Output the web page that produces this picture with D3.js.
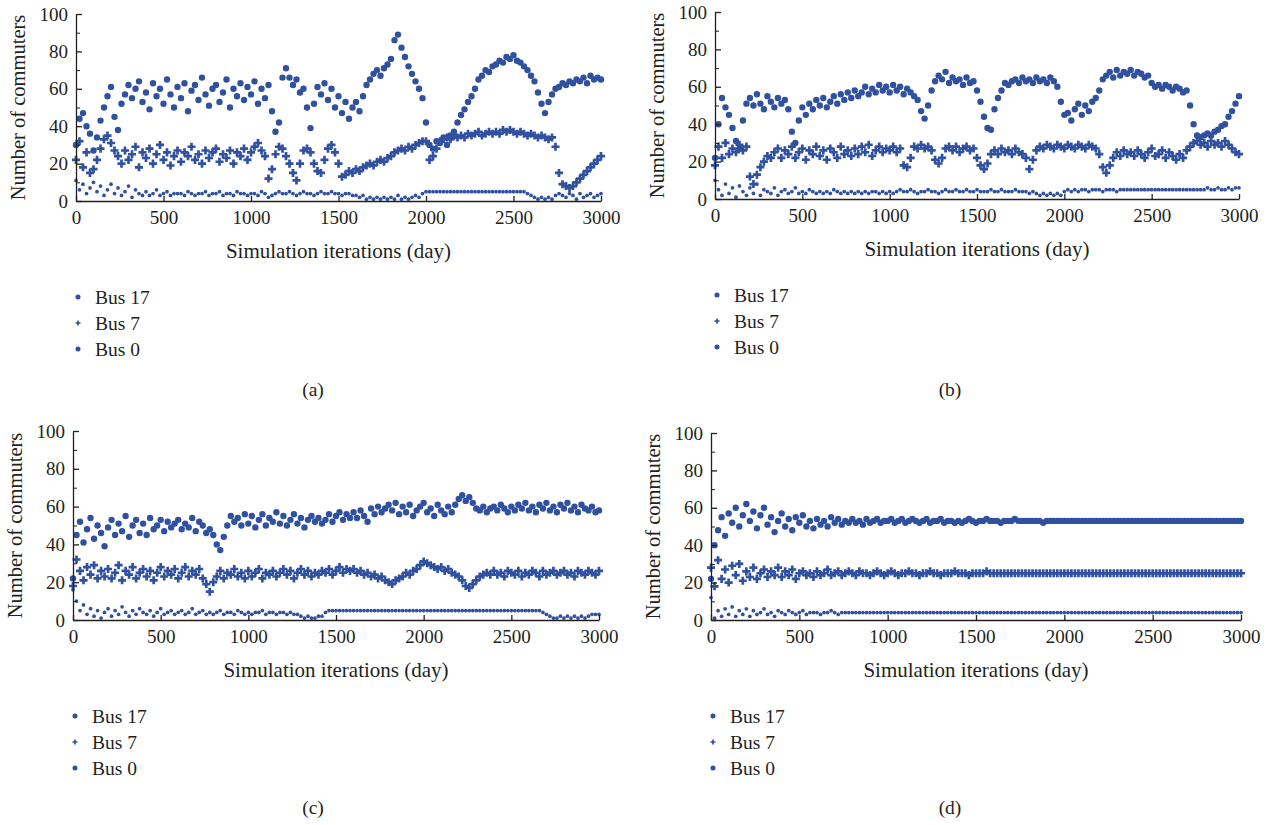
<!DOCTYPE html>
<html>
<head>
<meta charset="utf-8">
<script src="https://cdn.jsdelivr.net/npm/d3@7"></script>
<style>
  body { margin: 0; background: #fff; }
</style>
</head>
<body>
<svg id="chart" width="1273" height="825"></svg>
<script>
// one value every 20 simulated days, 0..3000 (151 values per series)
var dayStep = 20;
var seriesNames = ["Bus 17", "Bus 7", "Bus 0"];
var xTicks = [0, 500, 1000, 1500, 2000, 2500, 3000];
var yTicks = [0, 20, 40, 60, 80, 100];
var panelLabels = ["(a)", "(b)", "(c)", "(d)"];

var a17 = [30,44,47,40,36,27,34,43,50,56,
           61,45,38,52,57,62,55,60,64,53,
           58,49,63,56,60,52,65,57,50,61,
           55,63,48,59,62,54,66,57,51,60,
           62,53,58,65,50,60,56,63,54,61,
           57,64,52,60,55,62,48,37,42,66,
           71,66,62,65,58,60,50,39,52,61,
           57,63,54,60,50,56,47,53,44,50,
           53,48,56,62,65,68,70,67,71,73,
           76,86,89,82,77,72,68,64,60,55,
           42,30,28,32,31,34,30,35,37,42,
           46,49,53,56,60,65,67,70,69,72,
           73,75,74,77,76,78,75,74,72,70,
           67,64,58,52,47,53,57,60,61,63,
           62,64,63,65,64,66,63,67,65,66,
           65];
var a7 = [22,32,18,26,15,17,22,28,33,35,
          31,27,24,20,27,22,25,29,18,26,
          23,28,20,25,30,22,26,19,24,27,
          21,26,24,29,22,25,20,27,23,26,
          28,21,25,23,27,20,26,24,28,22,
          26,29,31,27,24,12,17,25,29,28,
          24,20,15,11,20,27,28,26,20,16,
          15,22,28,30,26,20,13,14,16,15,
          17,16,18,19,20,19,21,22,21,23,
          24,26,27,28,27,29,28,30,31,32,
          32,22,24,28,32,33,34,33,35,34,
          35,34,36,35,36,37,35,36,37,36,
          37,36,38,37,38,37,36,37,36,35,
          36,35,34,35,34,33,34,29,15,9,
          8,7,8,10,12,14,16,18,20,22,
          24];
var a0 = [11,6,9,4,7,10,5,8,3,6,
          9,4,7,3,5,8,2,6,4,3,
          5,3,4,6,3,4,5,3,4,4,
          4,3,5,4,3,4,4,5,3,4,
          4,5,3,4,4,3,5,4,4,3,
          4,4,3,5,4,2,3,4,5,4,
          4,5,4,3,4,5,4,4,3,4,
          5,4,4,5,4,4,3,4,4,3,
          3,2,3,1,2,1,2,1,2,1,
          2,1,3,1,2,1,2,3,2,4,
          5,5,5,5,5,5,5,5,5,5,
          5,5,5,5,5,5,5,5,5,5,
          5,5,5,5,5,5,5,5,5,4,
          3,2,1,2,1,2,1,3,4,3,
          2,4,3,1,4,2,3,4,2,3,
          4];

var b17 = [22,40,54,49,45,38,31,27,42,51,
           54,50,56,51,48,55,52,49,54,51,
           53,48,36,30,42,49,45,51,48,53,
           50,54,49,52,55,51,56,53,57,54,
           58,55,57,60,56,59,57,61,58,60,
           57,61,58,60,56,59,57,55,53,47,
           43,50,58,63,66,64,68,62,65,63,
           64,61,65,62,63,58,52,44,38,37,
           48,54,58,62,61,63,64,62,65,63,
           64,62,65,63,64,62,65,63,60,52,
           45,46,42,48,51,45,50,47,52,54,
           58,64,66,68,65,69,66,68,67,69,
           66,68,67,65,66,62,60,61,59,61,
           60,58,60,59,57,58,50,40,34,33,
           34,35,34,36,37,39,40,44,47,51,
           55];
var b7 = [18,28,22,30,24,27,25,29,26,28,
          12,8,13,17,20,23,22,25,27,22,
          26,24,28,22,25,27,21,26,24,28,
          23,26,21,27,25,22,28,24,26,23,
          27,24,28,25,29,23,26,28,25,27,
          26,28,25,27,18,17,22,28,27,29,
          27,28,26,21,19,22,27,28,26,28,
          25,27,28,26,27,22,18,16,19,24,
          26,24,27,25,26,24,27,25,24,22,
          16,21,26,28,27,29,28,27,29,28,
          27,29,28,27,29,28,27,29,28,27,
          24,17,14,18,22,25,23,26,24,25,
          23,26,24,22,25,27,23,24,26,22,
          25,23,21,24,22,26,28,30,31,29,
          30,28,31,29,30,28,31,29,27,25,
          24];
var b0 = [10,5,2,8,3,6,1,7,4,2,
          6,3,8,2,5,4,3,6,2,4,
          5,3,4,6,3,4,3,5,4,3,
          4,3,4,3,5,4,3,4,3,4,
          3,4,3,4,3,4,4,3,4,3,
          4,3,4,5,4,4,5,4,3,4,
          4,5,4,4,3,4,5,4,4,5,
          4,4,5,4,4,5,4,4,4,5,
          4,4,5,4,4,4,5,4,4,4,
          3,4,3,2,3,2,3,2,3,2,
          4,5,4,5,4,5,5,4,5,5,
          5,4,5,5,5,4,5,5,5,5,
          5,5,5,5,5,5,5,5,5,5,
          5,5,5,5,5,5,5,5,5,5,
          5,6,5,5,6,5,5,6,5,6,
          6];

var c17 = [22,45,52,41,48,54,43,50,46,39,
           49,53,45,51,47,55,44,50,53,46,
           51,45,54,48,50,53,47,52,49,51,
           53,48,51,49,54,47,52,50,46,48,
           45,40,37,44,50,55,52,54,50,56,
           51,55,49,53,56,50,54,52,57,51,
           55,50,53,56,51,54,49,53,55,52,
           54,51,53,56,52,55,57,53,56,54,
           57,54,58,55,52,59,56,60,57,59,
           61,58,62,56,60,57,61,55,58,60,
           62,57,59,55,61,58,56,60,57,61,
           64,66,63,65,62,59,58,60,57,59,
           60,58,61,59,57,60,58,61,59,62,
           58,60,57,61,59,62,58,60,57,61,
           59,62,58,60,57,61,59,58,60,57,
           58];
var c7 = [18,32,26,21,28,24,29,22,26,23,
          27,22,25,29,21,26,24,28,22,25,
          27,23,26,21,25,28,23,26,24,27,
          22,25,28,23,26,24,27,22,19,15,
          20,23,26,22,25,24,27,23,25,22,
          26,23,25,27,22,25,24,26,23,25,
          27,24,26,22,25,27,24,26,23,25,
          24,26,25,27,24,26,28,25,27,26,
          27,25,26,24,25,23,24,22,23,21,
          20,19,21,22,23,25,24,26,27,29,
          31,30,29,28,27,28,26,27,25,24,
          23,21,18,17,19,21,23,24,25,24,
          26,24,25,23,26,25,24,26,23,25,
          24,26,25,23,26,24,25,26,24,25,
          26,24,25,23,26,25,24,26,25,24,
          26];
var c0 = [16,10,5,8,3,6,2,5,1,4,
          6,2,5,3,7,4,2,5,3,6,
          4,3,5,2,4,6,3,4,5,3,
          4,5,3,4,6,3,4,5,3,4,
          3,4,5,3,4,4,3,5,4,3,
          4,3,4,4,5,3,4,4,3,4,
          4,3,4,3,3,2,1,2,1,1,
          2,2,4,5,5,5,5,5,5,5,
          5,5,5,5,5,5,5,5,5,5,
          5,5,5,5,5,5,5,5,5,5,
          5,5,5,5,5,5,5,5,5,5,
          5,5,5,5,5,5,5,5,5,5,
          5,5,5,5,5,5,5,5,5,5,
          5,5,5,5,4,3,2,1,1,2,
          1,2,1,2,1,2,1,2,3,3,
          3];

var d17 = [22,40,48,55,45,57,52,60,50,56,
           62,53,58,49,56,60,51,55,47,53,
           57,50,54,48,55,52,56,50,53,49,
           54,51,53,50,55,52,54,51,53,52,
           54,52,53,51,54,52,53,54,52,53,
           53,54,52,53,54,52,53,54,53,52,
           53,54,52,53,53,54,52,53,53,52,
           53,52,53,54,53,52,53,53,54,53,
           53,53,52,53,53,53,54,53,53,53,
           53,53,53,53,52,53,53,53,53,53,
           53,53,53,53,53,53,53,53,53,53,
           53,53,53,53,53,53,53,53,53,53,
           53,53,53,53,53,53,53,53,53,53,
           53,53,53,53,53,53,53,53,53,53,
           53,53,53,53,53,53,53,53,53,53,
           53];
var d7 = [28,18,32,22,27,20,29,24,30,21,
          26,23,28,22,25,27,23,26,24,28,
          23,26,24,27,22,25,26,24,25,23,
          26,24,25,27,24,25,26,24,25,26,
          25,24,26,25,25,24,25,26,25,24,
          25,26,25,24,25,25,26,25,25,24,
          25,25,26,25,25,24,25,25,25,26,
          25,25,25,24,25,25,25,25,26,25,
          25,25,25,25,25,25,25,25,25,25,
          25,25,25,25,25,25,25,25,25,25,
          25,25,25,25,25,25,25,25,25,25,
          25,25,25,25,25,25,25,25,25,25,
          25,25,25,25,25,25,25,25,25,25,
          25,25,25,25,25,25,25,25,25,25,
          25,25,25,25,25,25,25,25,25,25,
          25];
var d0 = [12,1,5,2,6,3,7,2,5,3,
          6,2,5,3,4,6,3,4,2,5,
          4,3,5,4,3,4,5,3,4,4,
          4,3,4,4,5,4,3,4,4,4,
          4,4,4,4,4,4,4,4,4,4,
          4,4,4,4,4,4,4,4,4,4,
          4,4,4,4,4,4,4,4,4,4,
          4,4,4,4,4,4,4,4,4,4,
          4,4,4,4,4,4,4,4,4,4,
          4,4,4,4,4,4,4,4,4,4,
          4,4,4,4,4,4,4,4,4,4,
          4,4,4,4,4,4,4,4,4,4,
          4,4,4,4,4,4,4,4,4,4,
          4,4,4,4,4,4,4,4,4,4,
          4,4,4,4,4,4,4,4,4,4,
          4];

var blue = "#3050a0";
var ink = "#231f20";
var fontFamily = "'Liberation Serif', 'Times New Roman', serif";

// panel layout: plot box in page pixels
var panels = [
  { label: panelLabels[0], series: [a17, a7, a0], left: 76,  right: 601,  top: 14,  bottom: 201, lx: 313, ly: 389 },
  { label: panelLabels[1], series: [b17, b7, b0], left: 715, right: 1239, top: 12,  bottom: 199, lx: 950, ly: 389 },
  { label: panelLabels[2], series: [c17, c7, c0], left: 73,  right: 599,  top: 431, bottom: 620, lx: 313, ly: 807 },
  { label: panelLabels[3], series: [d17, d7, d0], left: 711, right: 1241, top: 433, bottom: 620, lx: 950, ly: 807 }
];

var symbols = [
  d3.symbol().type(d3.symbolCircle).size(32),
  d3.symbol().type(d3.symbolCross).size(36),
  d3.symbol().type(d3.symbolCircle).size(11)
];
var legendSymbols = [
  d3.symbol().type(d3.symbolCircle).size(20),
  d3.symbol().type(d3.symbolCross).size(14),
  d3.symbol().type(d3.symbolCircle).size(20)
];

var svg = d3.select("#chart");

function label(sel, size) {
  return sel.style("font-family", fontFamily).style("font-size", (size || 19) + "px").attr("fill", ink);
}

panels.forEach(function(p) {
  var w = p.right - p.left, h = p.bottom - p.top;
  var x = d3.scaleLinear().domain([0, 3000]).range([0, w]);
  var y = d3.scaleLinear().domain([0, 100]).range([h, 0]);

  var g = svg.append("g").attr("transform", "translate(" + p.left + "," + p.top + ")");

  // points, bus 0 drawn first so the bigger marks sit on top
  [2, 1, 0].forEach(function(s) {
    g.append("g").selectAll("path")
      .data(p.series[s])
      .enter().append("path")
        .attr("d", symbols[s])
        .attr("fill", blue)
        .attr("transform", function(d, i) {
          return "translate(" + x(i * dayStep) + "," + y(d) + ")";
        });
  });

  // minor y ticks
  g.append("g")
    .call(d3.axisLeft(y).tickValues([10, 30, 50, 70, 90]).tickSize(-4).tickFormat(""))
    .call(function(a) { a.select(".domain").remove(); });

  var yAxis = g.append("g")
    .call(d3.axisLeft(y).tickValues(yTicks).tickSize(-6).tickSizeOuter(0).tickPadding(8)
      .tickFormat(d3.format("d")));
  var xAxis = g.append("g")
    .attr("transform", "translate(0," + h + ")")
    .call(d3.axisBottom(x).tickValues(xTicks).tickSize(-5).tickSizeOuter(0).tickPadding(10)
      .tickFormat(d3.format("d")));

  [yAxis, xAxis].forEach(function(a) {
    a.selectAll("path, line").attr("stroke", ink).attr("stroke-width", 1.3);
    label(a.selectAll("text"), 19);
  });
  g.selectAll(".tick line").attr("stroke", ink);

  label(g.append("text"), 21)
    .attr("x", w / 2).attr("y", h + 57)
    .attr("text-anchor", "middle")
    .text("Simulation iterations (day)");

  label(g.append("text"), 20.5)
    .attr("transform", "translate(" + (-51) + "," + (h / 2) + ") rotate(-90)")
    .attr("text-anchor", "middle")
    .text("Number of commuters");

  // legend
  var leg = g.append("g").attr("transform", "translate(2," + (h + 96) + ")");
  seriesNames.forEach(function(name, s) {
    leg.append("path")
      .attr("d", legendSymbols[s])
      .attr("fill", blue)
      .attr("transform", "translate(0," + (s * 26) + ")");
    label(leg.append("text"), 19.5)
      .attr("x", 17).attr("y", s * 26).attr("dy", "0.35em")
      .text(name);
  });

  label(svg.append("text"), 19.5)
    .attr("x", p.lx).attr("y", p.ly).attr("dy", "0.35em")
    .attr("text-anchor", "middle")
    .text(p.label);
});
</script>
</body>
</html>
